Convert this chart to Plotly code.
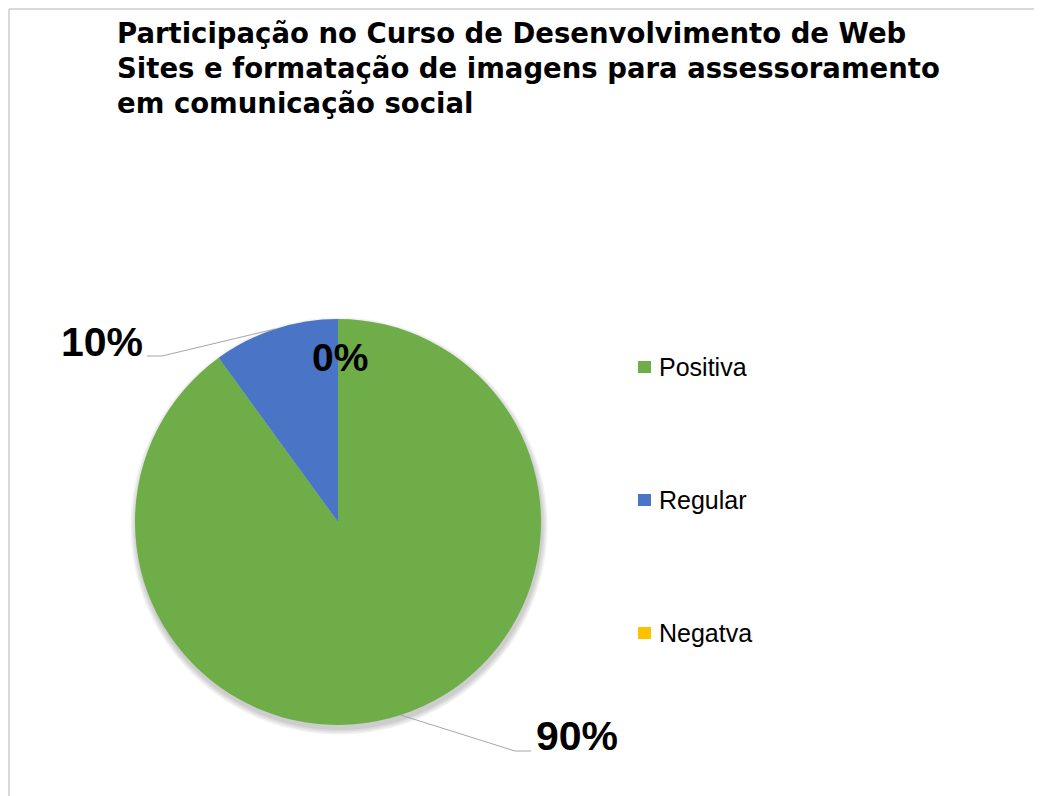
import math
import plotly.graph_objects as go

# ---- data ----
categories = ["Positiva", "Regular", "Negatva"]
values = [90, 10, 0]
colors = ["#6EAD47", "#4A74C6", "#FFC000"]
title_lines = [
    "Participação no Curso de Desenvolvimento de Web",
    "Sites e formatação de imagens para assessoramento",
    "em comunicação social",
]

# the page places the figure at (8, 8) in the window
OFF = 8
W, H = 1042 - OFF, 796 - OFF


def px(x):
    return (x - OFF) / W


def py(y):
    return 1 - (y - OFF) / H


# pie geometry (window pixels)
cx, cy, r = 338, 522, 203

fig = go.Figure()
fig.add_trace(go.Pie(
    labels=categories,
    values=values,
    sort=False,
    direction="clockwise",
    rotation=0,
    marker=dict(colors=colors, line=dict(width=0)),
    textinfo="none",
    hoverinfo="label+percent",
    showlegend=False,
    domain=dict(x=[px(cx - r), px(cx + r)], y=[py(cy + r), py(cy - r)]),
))

shapes = []
# chart border (top and left visible)
shapes.append(dict(type="line", xref="paper", yref="paper", x0=px(9), x1=1.01, y0=py(9), y1=py(9),
                   line=dict(color="#d9d9d9", width=2)))
shapes.append(dict(type="line", xref="paper", yref="paper", x0=px(9), x1=px(9), y0=py(9), y1=-0.01,
                   line=dict(color="#d9d9d9", width=2)))
# soft shadow under the pie
for i in range(4):
    rr = r + 1 + i * 1.5
    oy = 4
    shapes.append(dict(type="circle", xref="paper", yref="paper", layer="below",
                       x0=px(cx - rr + 1), x1=px(cx + rr + 1), y0=py(cy + oy + rr), y1=py(cy + oy - rr),
                       fillcolor="rgba(0,0,0,0.05)", line=dict(width=0)))

annotations = []
# title, one annotation per line
title_y = [33, 68, 103]
for t, yy in zip(title_lines, title_y):
    annotations.append(dict(text=t, x=px(115), y=py(yy), xref="paper", yref="paper",
                            xanchor="left", yanchor="middle", showarrow=False,
                            font=dict(family="DejaVu Sans", size=27.5, color="#000000", weight="bold")))

# percentage labels with leader lines
total = sum(values)
label_pos = [(577, 736), (102, 342), (340, 357)]
label_sizes = [41, 41, 39]
leader_bend = [(515, 751, 531), (162, 356, 147), None]
cum = 0
for i, v in enumerate(values):
    mid = (cum + v / 2) / total * 360
    cum += v
    pct = round(v / total * 100)
    lx, ly = label_pos[i]
    annotations.append(dict(text=f"{pct}%", x=px(lx), y=py(ly), xref="paper", yref="paper",
                            xanchor="center", yanchor="middle", showarrow=False,
                            font=dict(family="Liberation Sans", size=label_sizes[i], color="#000000",
                                      weight="bold")))
    if leader_bend[i] is not None:
        ex = cx + r * math.sin(math.radians(mid))
        ey = cy - r * math.cos(math.radians(mid))
        bx, by, tx = leader_bend[i]
        shapes.append(dict(type="path", xref="paper", yref="paper",
                           path=f"M {px(ex)} {py(ey)} L {px(bx)} {py(by)} L {px(tx)} {py(by)}",
                           line=dict(color="#a6a6a6", width=1)))

# legend (drawn manually to match the wide spacing)
leg_y0, leg_step = 367, 133
for i, (c, col) in enumerate(zip(categories, colors)):
    yy = leg_y0 + i * leg_step
    shapes.append(dict(type="rect", xref="paper", yref="paper",
                       x0=px(638), x1=px(651), y0=py(yy + 6), y1=py(yy - 6),
                       fillcolor=col, line=dict(width=0)))
    annotations.append(dict(text=c, x=px(657), y=py(yy), xref="paper", yref="paper",
                            xanchor="left", yanchor="middle", showarrow=False,
                            font=dict(family="Liberation Sans", size=25, color="#000000")))

fig.update_layout(
    width=W, height=H,
    margin=dict(l=0, r=0, t=0, b=0),
    paper_bgcolor="#ffffff",
    plot_bgcolor="#ffffff",
    shapes=shapes,
    annotations=annotations,
)

fig.write_html("out.html")
